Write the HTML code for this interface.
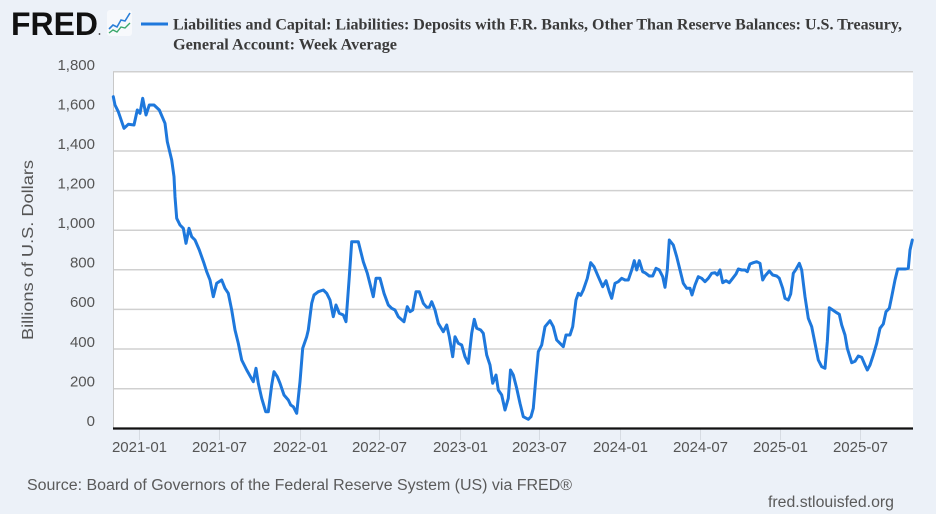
<!DOCTYPE html>
<html><head><meta charset="utf-8"><style>
html,body{margin:0;padding:0;background:#ecf1f8;}
svg{display:block;}
</style></head><body>
<svg width="936" height="514" viewBox="0 0 936 514" xmlns="http://www.w3.org/2000/svg">
<rect x="0" y="0" width="936" height="514" fill="#ecf1f8"/>
<!-- logo -->
<text x="11" y="35" font-family="Liberation Sans, sans-serif" font-weight="bold" font-size="32" fill="#111" textLength="87" lengthAdjust="spacingAndGlyphs">FRED</text>
<circle cx="99.5" cy="34" r="0.9" fill="#333"/>
<rect x="107" y="10" width="25" height="26" rx="3" fill="#f7f9fc"/>
<polyline points="109,29 113,25 117,27 121,20 125,21 130,13" fill="none" stroke="#2a7fd8" stroke-width="1.6"/>
<polyline points="109,33 113,30 117,32 121,27 125,28 130,23" fill="none" stroke="#3aa86b" stroke-width="1.4"/>
<!-- legend -->
<line x1="141" y1="24" x2="168" y2="24" stroke="#1e78dc" stroke-width="3"/>
<text x="173" y="29.5" font-family="Liberation Serif, serif" font-weight="bold" font-size="15.5" fill="#3a3a3a" textLength="729" lengthAdjust="spacingAndGlyphs">Liabilities and Capital: Liabilities: Deposits with F.R. Banks, Other Than Reserve Balances: U.S. Treasury,</text>
<text x="173" y="49.5" font-family="Liberation Serif, serif" font-weight="bold" font-size="15.5" fill="#3a3a3a" textLength="224" lengthAdjust="spacingAndGlyphs">General Account: Week Average</text>
<!-- plot area -->
<rect x="113" y="71.7" width="800" height="356.6" fill="#ffffff"/>
<g stroke="#d0d0d0" stroke-width="1.5">
<line x1="113" y1="71.7" x2="913" y2="71.7"/>
<line x1="113" y1="111.3" x2="913" y2="111.3"/>
<line x1="113" y1="151.0" x2="913" y2="151.0"/>
<line x1="113" y1="190.6" x2="913" y2="190.6"/>
<line x1="113" y1="230.2" x2="913" y2="230.2"/>
<line x1="113" y1="269.8" x2="913" y2="269.8"/>
<line x1="113" y1="309.4" x2="913" y2="309.4"/>
<line x1="113" y1="349.0" x2="913" y2="349.0"/>
<line x1="113" y1="388.7" x2="913" y2="388.7"/>
</g>
<line x1="113.5" y1="71.7" x2="113.5" y2="428" stroke="#c8c8c8" stroke-width="1"/>
<!-- x ticks -->
<g stroke="#d6dbe2" stroke-width="1">
<line x1="139.5" y1="429" x2="139.5" y2="440"/>
<line x1="219.5" y1="429" x2="219.5" y2="440"/>
<line x1="300.5" y1="429" x2="300.5" y2="440"/>
<line x1="379.5" y1="429" x2="379.5" y2="440"/>
<line x1="460.5" y1="429" x2="460.5" y2="440"/>
<line x1="539.5" y1="429" x2="539.5" y2="440"/>
<line x1="620.5" y1="429" x2="620.5" y2="440"/>
<line x1="700.5" y1="429" x2="700.5" y2="440"/>
<line x1="780.5" y1="429" x2="780.5" y2="440"/>
<line x1="860.5" y1="429" x2="860.5" y2="440"/>
</g>
<!-- series -->
<polyline fill="none" stroke="#1e78dc" stroke-width="3" stroke-linejoin="round" stroke-linecap="round" points="
113.3,96.7 115,105 118.3,111.7 124,128.3 128.3,124.3 134,125 137.3,110 140,113.3 142.7,98.3 146,115 149.3,105 154,105 159.3,110 165,123.3 167.3,141.7 171.7,160 174,176.7 175,196.7 176.7,218.3 180,225 183.3,228.3 186,243.3 189,228.3 191.7,236.7 195,240 199.3,250 204,263.3 206.7,271.7 210,280 213.3,296.7 216.7,283.3 221.7,280 225,288.3 228.3,293.3 231.7,310 235,330 238.3,343.3 241.7,360 246.7,370 253.3,381.7 256,368.3 258.3,383.3 261.7,398.3 265.7,411.7 268.3,411.7 271.7,385 274,371.7 277.3,376.7 280,383.3 284,395 288.3,400 290.7,405 293.3,406.7 296.7,413.3 300,381.7 302.7,348.3 306.7,336.7 308.3,330 311.7,303.3 314,295 318.3,291.7
323.3,290 326.7,293.3 330,300 333.3,316.7 336,305 339.3,313.3 343.3,315 346,321.7 349.3,276.7 351.7,241.7 358.3,241.7 363.3,261.7 367.3,273.3 373.3,296.7 376,278.3 380,278.3 384,293.3 388.3,305 391.7,308.3 395,310 398.3,316.7 404,321.7 407.3,306.7 410,311.7 412.7,310 416,291.7 419.3,291.7 423.3,303.3 426.7,307.3 429.3,307.3 431.7,301.7 435,310 438.3,323.3 443.3,331.7 446.7,325 449.3,336.7 452.7,356.7 455,336.7 458.3,343.3 461.7,345 465,356.7 468.3,363.3 471.7,333.3 474.3,319.3 476.7,328.3 480.7,330 483.3,333.3 486.7,355 490,365 492.7,383.3 496,375 498.3,390 501.7,395 505,410 508.3,398.3 510.5,370 513.3,375
516.7,388.3 520,403.3 523.3,416.7 528.3,419.3 531,416.7 533.3,408.3 536,376.7 538.3,351.7 541.7,345 545,326.7 550,320.7 553.3,326.7 556.7,340 560,343.3 563.3,346.7 566,335 570,335 572.7,326.7 576,300 578.3,293.3 580.7,295.3 583.3,290 587.3,278.3 590.7,262.7 594,266.7 598.3,276.7 602.7,286.7 606,280.7 609.3,291.7 611.7,298.3 615,283.3 618.3,281.7 621.7,278.3 625,280 628.3,280 631.7,270 634.3,260.7 636.7,270 639.3,260.7 642.7,271.7 645,272.7 649.3,276 652.7,276 656,268.3 659.3,270 662.7,276.7 665,287.3 667.3,270 669.3,240 673.3,245 676.7,256.7 680,270 683.3,283.3 686.7,288.3 690,288.3 692,295 695,285 698.3,276.7 701.7,278.3 705,281.7 708.3,278.3 711.7,273.3 715,272.7 717.3,275 720,270
722.7,282.7 726,280.7 729.3,282.7 732.7,278.3 736,274 738.3,269 741.7,270 745,270 747.3,271.7 750,264 753.3,262.7 756.7,261.7 760,263.3 762.7,280 765,276 769.3,271 772.7,275 776.7,276 779.3,278.3 782.7,288.3 785,298.3 788.3,300 790.7,294 793.3,273.3 796,269.3 799.3,263.3 801.7,270 805,296.7 808.3,318.3 811.7,326.7 815,343.3 818.3,360 821.7,366.7 825,368.3 827.3,341.7 829.3,307.7 832.7,310 836.7,312.7 839.3,314.3 841.7,325 845,335 847.3,348.3 851.7,362.7 855,361.3 858.3,356 861.7,357.3 865,365 867.3,370 870,365 873.3,355 876.7,343.3 880,328.3 883.3,324 886,311.7 889.3,308.3 891.7,296.7 895,280 897.7,269 905,269 908.3,268.3 910,250 912.3,240"/>
<!-- x axis line -->
<line x1="113" y1="428.5" x2="913" y2="428.5" stroke="#111" stroke-width="2.2"/>
<!-- y labels -->
<g font-family="Liberation Sans, sans-serif" font-size="15" fill="#555" text-anchor="end">
<text x="95" y="70">1,800</text>
<text x="95" y="109.5">1,600</text>
<text x="95" y="149">1,400</text>
<text x="95" y="188.5">1,200</text>
<text x="95" y="228">1,000</text>
<text x="95" y="267.5">800</text>
<text x="95" y="307">600</text>
<text x="95" y="347">400</text>
<text x="95" y="386.5">200</text>
<text x="95" y="426">0</text>
</g>
<text transform="translate(33,250) rotate(-90)" font-family="Liberation Sans, sans-serif" font-size="16" fill="#555" text-anchor="middle" textLength="180" lengthAdjust="spacingAndGlyphs">Billions of U.S. Dollars</text>
<!-- x labels -->
<g font-family="Liberation Sans, sans-serif" font-size="15" fill="#555" text-anchor="middle">
<text x="139.5" y="452">2021-01</text>
<text x="219.5" y="452">2021-07</text>
<text x="300.5" y="452">2022-01</text>
<text x="379.5" y="452">2022-07</text>
<text x="460.5" y="452">2023-01</text>
<text x="539.5" y="452">2023-07</text>
<text x="620.5" y="452">2024-01</text>
<text x="700.5" y="452">2024-07</text>
<text x="780.5" y="452">2025-01</text>
<text x="860.5" y="452">2025-07</text>
</g>
<text x="27" y="490" font-family="Liberation Sans, sans-serif" font-size="15.5" fill="#5a5a5a" textLength="545" lengthAdjust="spacingAndGlyphs">Source: Board of Governors of the Federal Reserve System (US) via FRED®</text>
<text x="768" y="507" font-family="Liberation Sans, sans-serif" font-size="15.5" fill="#5a5a5a" textLength="126" lengthAdjust="spacingAndGlyphs">fred.stlouisfed.org</text>
</svg>
</body></html>
